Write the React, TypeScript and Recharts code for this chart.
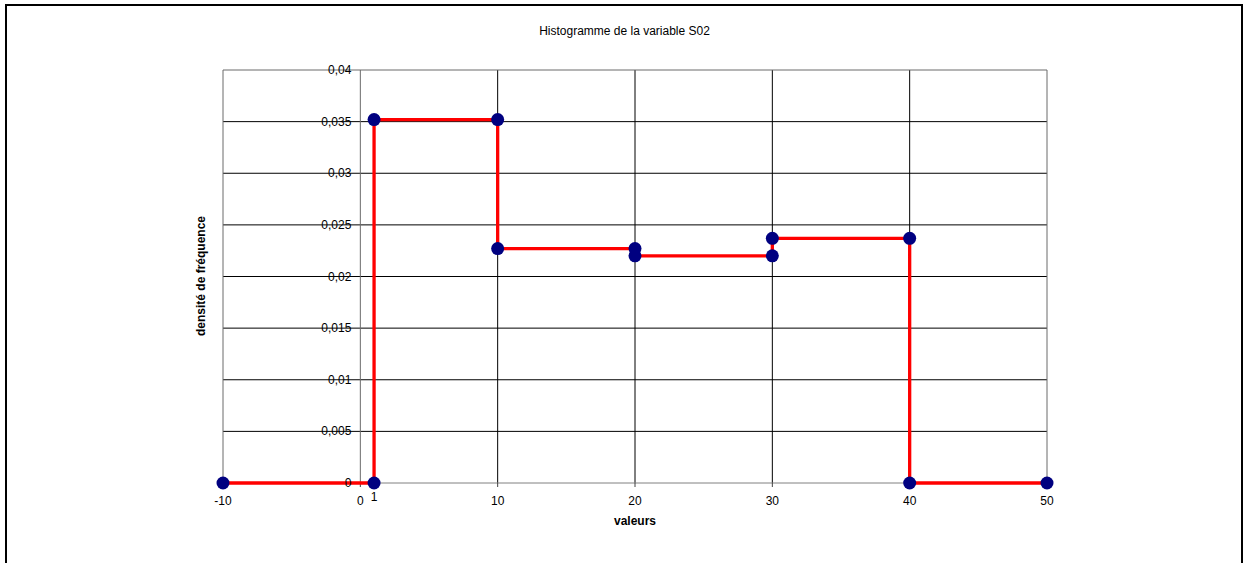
import React from 'react';
import { ScatterChart, Scatter, XAxis, YAxis, CartesianGrid } from 'recharts';

const xValues = [-10, 1, 1, 10, 10, 20, 20, 30, 30, 40, 40, 50];
const densities = [0, 0, 0.0352, 0.0352, 0.0227, 0.0227, 0.022, 0.022, 0.0237, 0.0237, 0, 0];
const xTicks = [-10, 0, 1, 10, 20, 30, 40, 50];
const yTicks = [0, 0.005, 0.01, 0.015, 0.02, 0.025, 0.03, 0.035, 0.04];
const xGridInner = [10, 20, 30, 40];
const xGridEdge = [-10, 0, 50];
const yGridInner = [0.005, 0.01, 0.015, 0.02, 0.025, 0.03, 0.035];
const yGridEdge = [0.04];

const X_DOMAIN: [number, number] = [-10, 50];
const Y_DOMAIN: [number, number] = [0, 0.04];

const FONT = '"Liberation Sans", Arial, sans-serif';

const seriesData = xValues.map((x, i) => ({ x, y: densities[i] }));
const yLabelData = yTicks.map((v) => ({ x: 0, y: v, label: String(v).replace('.', ',') }));

function xCoords(values: number[]) {
  return (props: any) => {
    const s = props?.xAxis?.scale;
    const off = props?.offset;
    return values.map((v) => {
      if (typeof s === 'function') {
        const r = s(v);
        if (typeof r === 'number' && isFinite(r)) return r;
      }
      return off.left + ((v - X_DOMAIN[0]) / (X_DOMAIN[1] - X_DOMAIN[0])) * off.width;
    });
  };
}

function yCoords(values: number[]) {
  return (props: any) => {
    const s = props?.yAxis?.scale;
    const off = props?.offset;
    return values.map((v) => {
      if (typeof s === 'function') {
        const r = s(v);
        if (typeof r === 'number' && isFinite(r)) return r;
      }
      return off.top + (1 - (v - Y_DOMAIN[0]) / (Y_DOMAIN[1] - Y_DOMAIN[0])) * off.height;
    });
  };
}

const XTick = (props: any) => {
  const { x, y, payload } = props;
  const v = payload.value;
  const dy = v === 1 ? 16 : 20;
  return (
    <text x={x} y={y + dy - 4} textAnchor="middle" fontSize={12} fontFamily={FONT} fill="#000">
      {String(v)}
    </text>
  );
};

export default function App() {
  return (
    <div style={{ position: 'absolute', left: 0, top: 0, width: 1243, height: 563, overflow: 'hidden', background: '#fff', fontFamily: FONT }}>
      <div style={{ position: 'absolute', left: 5, top: 4, width: 1238, height: 700, border: '2px solid #000', boxSizing: 'border-box' }} />
      <div style={{ position: 'absolute', left: 0, top: 24, width: 1249, textAlign: 'center', fontSize: 12, lineHeight: '14px', color: '#000' }}>
        Histogramme de la variable S02
      </div>
      <div style={{ position: 'absolute', left: 535, top: 514, width: 200, textAlign: 'center', fontSize: 12, lineHeight: '14px', fontWeight: 'bold', color: '#000' }}>
        valeurs
      </div>
      <div style={{ position: 'absolute', left: 101, top: 269, width: 200, height: 14, textAlign: 'center', fontSize: 12, lineHeight: '14px', fontWeight: 'bold', color: '#000', transform: 'rotate(-90deg)', transformOrigin: '50% 50%' }}>
        densité de fréquence
      </div>
      <div style={{ position: 'absolute', left: 0, top: 0 }}>
        <ScatterChart width={1243} height={563} margin={{ top: 70, right: 196, bottom: 50, left: 223 }} style={{ fontFamily: FONT }}>
          <CartesianGrid
            stroke="#000"
            strokeWidth={1}
            verticalCoordinatesGenerator={xCoords(xGridInner)}
            horizontalCoordinatesGenerator={yCoords(yGridInner)}
          />
          <CartesianGrid
            stroke="#6a6a6a"
            strokeWidth={1}
            verticalCoordinatesGenerator={xCoords(xGridEdge)}
            horizontalCoordinatesGenerator={yCoords(yGridEdge)}
          />
          <XAxis
            type="number"
            dataKey="x"
            domain={X_DOMAIN}
            ticks={xTicks}
            height={30}
            tickSize={4}
            axisLine={{ stroke: '#808080' }}
            tickLine={{ stroke: '#404040' }}
            tick={<XTick />}
            interval={0}
          />
          <YAxis type="number" dataKey="y" domain={Y_DOMAIN} hide />
          <Scatter
            data={seriesData}
            isAnimationActive={false}
            line={{ stroke: '#FF0000', strokeWidth: 3.3 }}
            lineType="joint"
            shape={(p: any) => <circle cx={p.cx} cy={p.cy} r={6.5} fill="#000080" />}
          />
          <Scatter
            data={yLabelData}
            isAnimationActive={false}
            shape={(p: any) => (
              <text x={p.cx - 9} y={p.cy + 4} textAnchor="end" fontSize={12} fontFamily={FONT} fill="#000">
                {p.payload.label}
              </text>
            )}
          />
        </ScatterChart>
      </div>
    </div>
  );
}
